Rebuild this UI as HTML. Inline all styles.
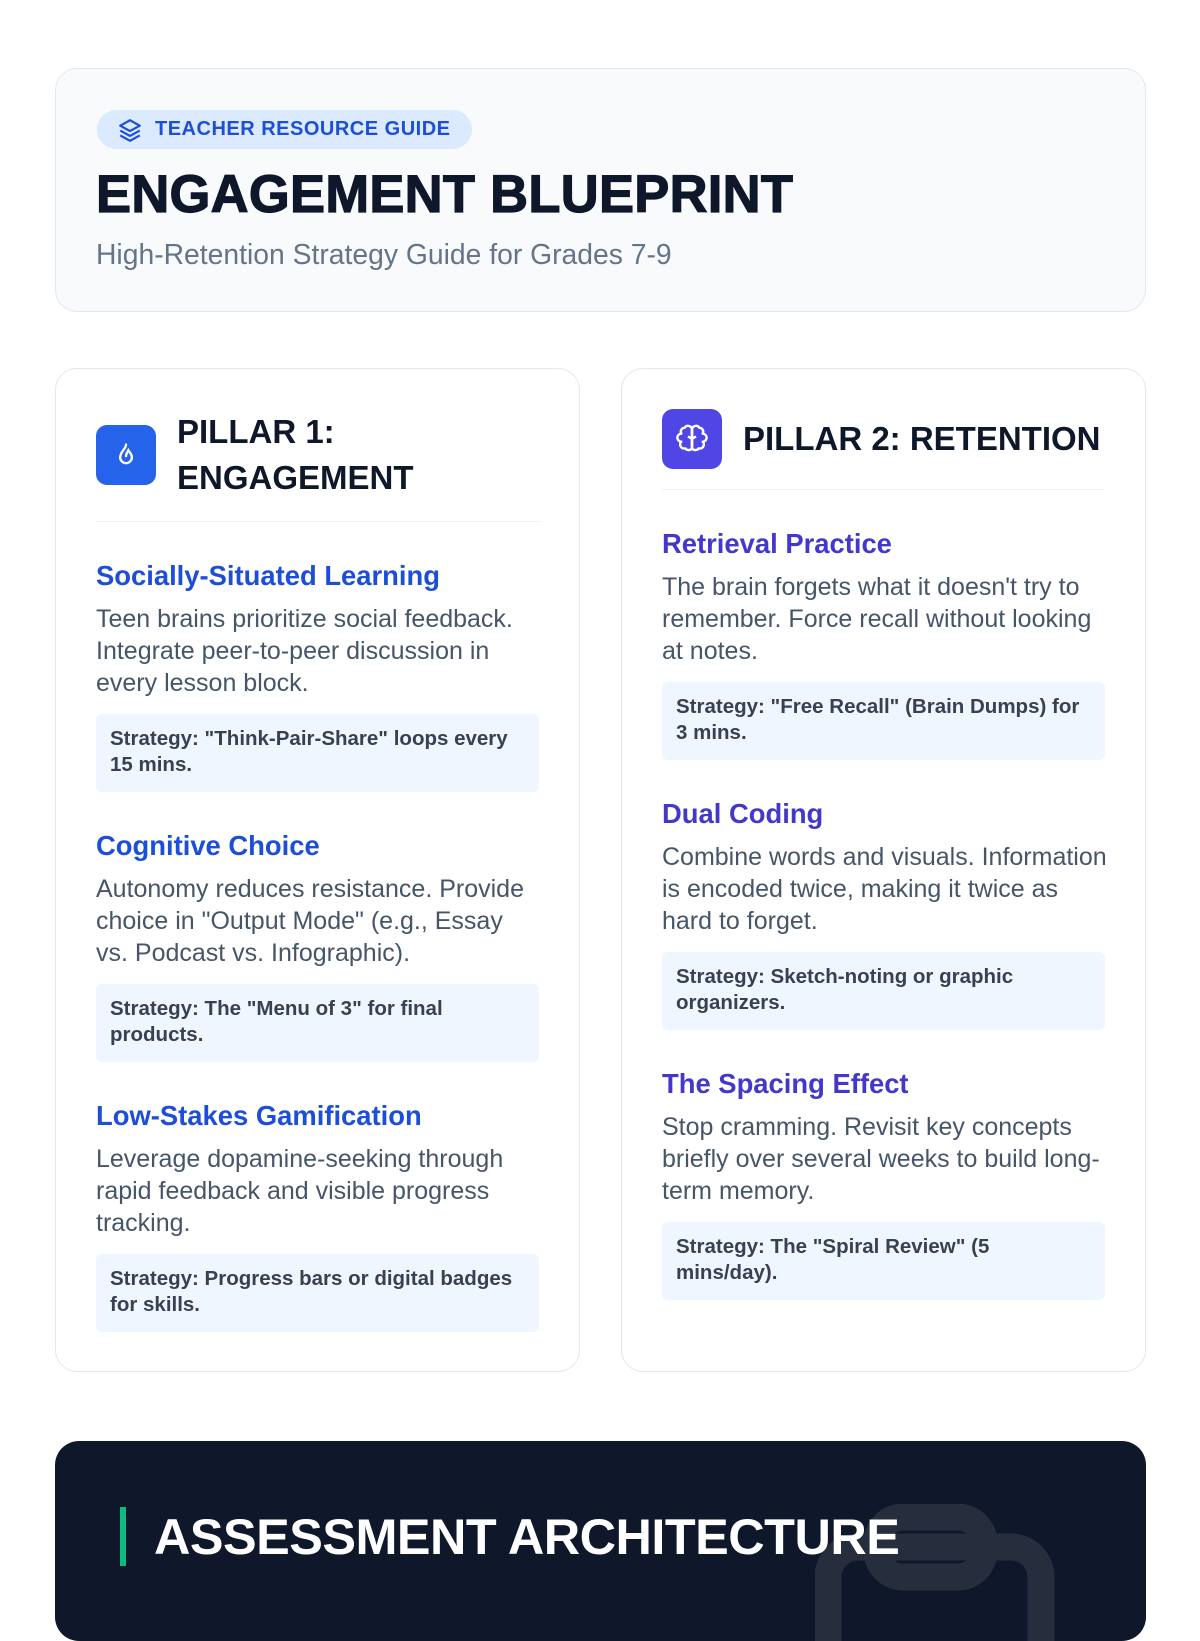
<!DOCTYPE html>
<html><head><meta charset="utf-8"><style>
*{box-sizing:border-box;margin:0;padding:0}
body{width:1200px;height:1600px;overflow:hidden;background:#fff;font-family:"Liberation Sans",sans-serif;position:relative}
.hdr{position:absolute;left:55px;top:68px;width:1091px;height:244px;background:#f8fafc;border:1.5px solid #e2e8f0;border-radius:22px}
.badge{position:absolute;left:41px;top:41px;height:39px;width:375px;background:#dbeafe;border-radius:20px;color:#1d4ed8;font-weight:bold;font-size:20px;letter-spacing:0.5px;line-height:39px;padding-left:58px}
.badge svg{position:absolute;left:20px;top:7px}
.title{position:absolute;left:40px;top:96px;font-size:52.5px;font-weight:900;color:#0f172a;line-height:60px;letter-spacing:0.3px;-webkit-text-stroke:1.2px #0f172a}
.sub{position:absolute;left:40px;top:168px;font-size:28.3px;color:#64748b;line-height:34px}
.card{position:absolute;top:368px;width:525px;height:1004px;border:1.5px solid #e2e8f0;border-radius:22px;padding:40px 40px 0 40px;background:#fff}
.ph{display:flex;align-items:center;gap:21px;padding-bottom:20px;border-bottom:1.5px solid #eef1f5}
.ic{width:60px;height:60px;border-radius:11px;flex:none;display:flex;align-items:center;justify-content:center}
.pt{font-size:33px;font-weight:bold;color:#0f172a;line-height:46px}
.item{margin-top:38px}
.item h3{font-size:27.4px;line-height:32px;font-weight:bold}
.item p{font-size:25px;line-height:32px;color:#475569;margin-top:11px;white-space:nowrap}
.box{margin-top:15px;background:#eff6ff;border-radius:6px;padding:12px 14px 14px 14px;font-size:20.5px;font-weight:bold;color:#374151;line-height:26px;white-space:nowrap}
.c1 h3{color:#1d4ed8}.c2 h3{color:#4338ca}
.dark{position:absolute;left:55px;top:1441px;width:1091px;height:200px;background:#0f172a;border-radius:24px;overflow:hidden}
.bar{position:absolute;left:65px;top:66px;width:6px;height:59px;background:#10b981}
.dt{position:absolute;left:99px;top:68px;font-size:50.4px;font-weight:bold;color:#fff;line-height:56px;letter-spacing:-0.5px}
</style></head><body>
<div class="hdr">
 <div class="badge"><svg width="26" height="26" viewBox="0 0 24 24" fill="none" stroke="#1d4ed8" stroke-width="2" stroke-linejoin="round"><path d="M12 3 3 8l9 5 9-5z"/><path d="m3 12.5 9 5 9-5"/><path d="m3 17 9 5 9-5"/></svg>TEACHER RESOURCE GUIDE</div>
 <div class="title">ENGAGEMENT BLUEPRINT</div>
 <div class="sub">High-Retention Strategy Guide for Grades 7-9</div>
</div>
<div class="card c1" style="left:55px">
 <div class="ph"><div class="ic" style="background:#2563eb"><svg width="28" height="28" viewBox="0 0 24 24" fill="none" stroke="#fff" stroke-width="2" stroke-linecap="round"><path d="M12 3c0 4-5 6-5 11a5 5 0 0 0 10 0c0-3-2-4-3-6-1 2-2 3-2 5"/></svg></div><div class="pt">PILLAR 1:<br>ENGAGEMENT</div></div>
 <div class="item"><h3>Socially-Situated Learning</h3><p>Teen brains prioritize social feedback.<br>Integrate peer-to-peer discussion in<br>every lesson block.</p><div class="box">Strategy: "Think-Pair-Share" loops every<br>15 mins.</div></div>
 <div class="item"><h3>Cognitive Choice</h3><p>Autonomy reduces resistance. Provide<br>choice in "Output Mode" (e.g., Essay<br>vs. Podcast vs. Infographic).</p><div class="box">Strategy: The "Menu of 3" for final<br>products.</div></div>
 <div class="item"><h3>Low-Stakes Gamification</h3><p>Leverage dopamine-seeking through<br>rapid feedback and visible progress<br>tracking.</p><div class="box">Strategy: Progress bars or digital badges<br>for skills.</div></div>
</div>
<div class="card c2" style="left:621px">
 <div class="ph"><div class="ic" style="background:#4f46e5"><svg width="32" height="32" viewBox="0 0 24 24" fill="none" stroke="#fff" stroke-width="1.8" stroke-linejoin="round"><path d="M12 5a3 3 0 0 0-5.5-1.5A3 3 0 0 0 4 8a3 3 0 0 0 0 6 3 3 0 0 0 3 5 3 3 0 0 0 5 0z"/><path d="M12 5a3 3 0 0 1 5.5-1.5A3 3 0 0 1 20 8a3 3 0 0 1 0 6 3 3 0 0 1-3 5 3 3 0 0 1-5 0z"/><path d="M12 5v14M9 10l3 2 3-2"/></svg></div><div class="pt">PILLAR 2: RETENTION</div></div>
 <div class="item"><h3>Retrieval Practice</h3><p>The brain forgets what it doesn't try to<br>remember. Force recall without looking<br>at notes.</p><div class="box">Strategy: "Free Recall" (Brain Dumps) for<br>3 mins.</div></div>
 <div class="item"><h3>Dual Coding</h3><p>Combine words and visuals. Information<br>is encoded twice, making it twice as<br>hard to forget.</p><div class="box">Strategy: Sketch-noting or graphic<br>organizers.</div></div>
 <div class="item"><h3>The Spacing Effect</h3><p>Stop cramming. Revisit key concepts<br>briefly over several weeks to build long-<br>term memory.</p><div class="box">Strategy: The "Spiral Review" (5<br>mins/day).</div></div>
</div>
<div class="dark">
 <svg style="position:absolute;left:760px;top:63px" width="240" height="140" viewBox="0 0 240 140" fill="none" stroke="#262e3e" stroke-width="27"><rect x="13" y="43" width="213" height="140" rx="30"/><rect x="62" y="13" width="107" height="60" rx="26"/></svg>
 <div class="bar"></div>
 <div class="dt">ASSESSMENT ARCHITECTURE</div>
</div>
</body></html>
